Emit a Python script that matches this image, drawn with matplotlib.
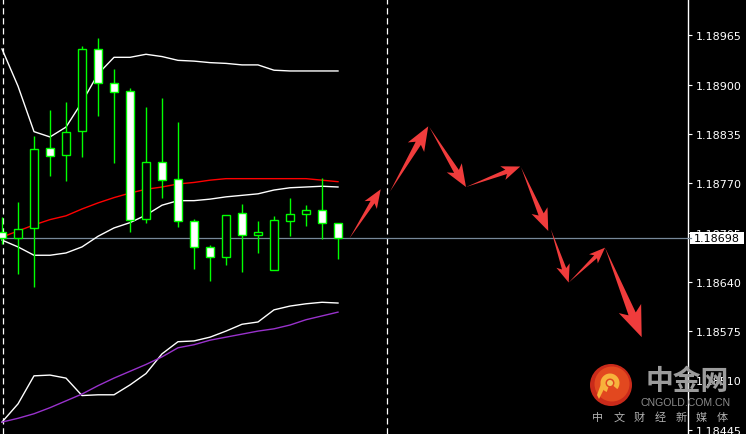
import numpy as np
import matplotlib
matplotlib.use("Agg")
import matplotlib.pyplot as plt
from matplotlib.patches import Rectangle, Polygon, Circle, Wedge

# ---------------- data ----------------
opens  = [1.18706, 1.18698, 1.18711, 1.18816, 1.18807, 1.18839, 1.18947, 1.18902, 1.18892, 1.18723, 1.18798,
          1.18776, 1.18720, 1.18686, 1.18673, 1.18731, 1.18702, 1.18656, 1.18720, 1.18729, 1.18735, 1.18718]
highs  = [1.18726, 1.18745, 1.18832, 1.18867, 1.18877, 1.18951, 1.18961, 1.18921, 1.18896, 1.18871, 1.18882,
          1.18851, 1.18723, 1.18689, 1.18728, 1.18743, 1.18720, 1.18727, 1.18751, 1.18741, 1.18777, 1.18718]
lows   = [1.18690, 1.18650, 1.18633, 1.18780, 1.18773, 1.18805, 1.18859, 1.18797, 1.18706, 1.18718, 1.18751,
          1.18712, 1.18657, 1.18641, 1.18662, 1.18653, 1.18678, 1.18656, 1.18700, 1.18714, 1.18697, 1.18670]
closes = [1.18698, 1.18710, 1.18815, 1.18806, 1.18838, 1.18947, 1.18902, 1.18890, 1.18722, 1.18798, 1.18774,
          1.18720, 1.18686, 1.18673, 1.18728, 1.18702, 1.18706, 1.18722, 1.18729, 1.18735, 1.18718, 1.18698]

bb_upper  = [1.18947, 1.18898, 1.18838, 1.18831, 1.18844, 1.18877, 1.18914, 1.18936, 1.18936, 1.18940, 1.18937,
             1.18932, 1.18931, 1.18929, 1.18928, 1.18926, 1.18926, 1.18919, 1.18918, 1.18918, 1.18918, 1.18918]
bb_middle = [1.18699, 1.18707, 1.18715, 1.18722, 1.18727, 1.18736, 1.18744, 1.18751, 1.18757, 1.18762, 1.18765,
             1.18769, 1.18771, 1.18774, 1.18776, 1.18776, 1.18776, 1.18776, 1.18776, 1.18776, 1.18774, 1.18772]
bb_lower  = [1.18695, 1.18686, 1.18675, 1.18675, 1.18678, 1.18686, 1.18700, 1.18711, 1.18718, 1.18728, 1.18741,
             1.18747, 1.18747, 1.18749, 1.18752, 1.18754, 1.18756, 1.18761, 1.18764, 1.18765, 1.18766, 1.18765]

ind_white  = [1.18455, 1.18479, 1.18516, 1.18517, 1.18513, 1.18490, 1.18491, 1.18491, 1.18504, 1.18519, 1.18545,
              1.18561, 1.18562, 1.18567, 1.18575, 1.18584, 1.18587, 1.18603, 1.18608, 1.18611, 1.18613, 1.18612]
ind_purple = [1.18455, 1.18460, 1.18466, 1.18474, 1.18483, 1.18492, 1.18503, 1.18513, 1.18522, 1.18531, 1.18541,
              1.18553, 1.18557, 1.18563, 1.18567, 1.18571, 1.18575, 1.18578, 1.18583, 1.18590, 1.18595, 1.18600]

bid_price = 1.18698
y_ticks = [1.18965, 1.18900, 1.18835, 1.18770, 1.18705, 1.18640, 1.18575, 1.18510, 1.18445]
separators = [0.06, 24.06]

# forecast arrows: (bar_from, price_from, bar_to, price_to)
arrow_bar_from   = [21.71, 24.25, 26.71, 29.00, 32.44, 34.31, 35.42, 37.69]
arrow_price_from = [1.18697, 1.18759, 1.18844, 1.18765, 1.18791, 1.18709, 1.18639, 1.18685]
arrow_bar_to     = [23.67, 26.64, 29.00, 32.39, 34.14, 35.42, 37.69, 39.98]
arrow_price_to   = [1.18762, 1.18845, 1.18765, 1.18792, 1.18707, 1.18639, 1.18685, 1.18567]

# ---------------- figure ----------------
W, H = 746, 435
fig = plt.figure(figsize=(W / 100, H / 100), dpi=100, facecolor="black")
ax = fig.add_axes([0, 0, 688 / W, 1])
ax.set_facecolor("black")
ax.set_xlim(-0.125, 42.875)
ax.set_ylim(1.184393, 1.190129)

x = np.arange(len(opens))
GREEN = "#00FF00"

# separators
for s in separators:
    ax.axvline(s, color="white", lw=0.9, ls=(0, (5, 3)), zorder=1)

# bid line
ax.axhline(bid_price, color="#778899", lw=0.9, zorder=1.5)

# indicators
ax.plot(x, bb_upper, color="white", lw=1.0, zorder=2)
ax.plot(x, bb_middle, color="#FF0000", lw=1.0, zorder=2)
ax.plot(x, bb_lower, color="white", lw=1.0, zorder=2)
ax.plot(x, ind_white, color="white", lw=1.0, zorder=2)
ax.plot(x, ind_purple, color="#9932CC", lw=1.0, zorder=2)

# candles
ax.vlines(x, lows, highs, color=GREEN, lw=1.0, zorder=3)
bw = 0.56
for i in range(len(opens)):
    o, c = opens[i], closes[i]
    fc = "white" if c < o else "black"
    ax.add_patch(Rectangle((x[i] - bw / 2, min(o, c)), bw, abs(c - o),
                           fc=fc, ec=GREEN, lw=1.0, zorder=4))

# axis styling
ax.set_xticks([])
ax.yaxis.tick_right()
ax.set_yticks(y_ticks)
ax.set_yticklabels([f"{v:.5f}" for v in y_ticks])
ax.tick_params(axis="y", colors="white", length=3, width=0.8, pad=2.5, labelsize=8)
for k in ["left", "top", "bottom"]:
    ax.spines[k].set_visible(False)
ax.spines["right"].set_color("white")
ax.spines["right"].set_linewidth(1.0)

# ---------------- overlay (pixel space) ----------------
ov = fig.add_axes([0, 0, 1, 1], facecolor="none")
ov.set_xlim(0, W)
ov.set_ylim(0, H)
ov.axis("off")

fig.canvas.draw()


def to_px(bx, py):
    return np.array(ax.transData.transform((bx, py)))


for b0, p0v, b1, p1v in zip(arrow_bar_from, arrow_price_from, arrow_bar_to, arrow_price_to):
    p0 = to_px(b0, p0v)
    p1 = to_px(b1, p1v)
    d = p1 - p0
    L = np.hypot(*d)
    u = d / L
    n = np.array([-u[1], u[0]])
    hl, hw, sw, notch = 0.26 * L, 0.25 * L, 0.08 * L, 0.06 * L
    pts = [p0,
           p0 + u * (L - hl) + n * sw / 2,
           p0 + u * (L - hl - notch) + n * hw / 2,
           p1,
           p0 + u * (L - hl - notch) - n * hw / 2,
           p0 + u * (L - hl) - n * sw / 2]
    ov.add_patch(Polygon(pts, closed=True, fc="#F03C3C", ec="none", zorder=5))

# current price box
yb = to_px(0, bid_price)[1]
ov.add_patch(Rectangle((690, yb - 5.7), 54, 11.4, fc="white", ec="none", zorder=6))
ov.plot([688, 691], [yb, yb], color="#778899", lw=0.9, zorder=6)
ov.text(694, yb, f"{bid_price:.5f}", color="black", fontsize=8, va="center", ha="left", zorder=7)

# watermark logo
cx, cy = 611, H - 386
ov.add_patch(Circle((cx, cy), 21, fc="#C92A1A", ec="none", zorder=8))
ov.add_patch(Circle((cx + 1, cy + 1), 17.5, fc="#E2481F", ec="none", zorder=8))
ov.add_patch(Wedge((cx - 1, cy + 2), 9.5, -40, 250, width=5, fc="#F7B23B", ec="none", zorder=9))
ov.add_patch(Polygon([(cx - 10, cy + 1), (cx - 5, cy), (cx - 12, cy - 14), (cx - 14, cy - 10)],
                     closed=True, fc="#F7B23B", ec="none", zorder=9))
ov.add_patch(Circle((cx - 1, cy + 2), 3, fc="#F3C65A", ec="none", zorder=9))

ov.text(687, H - 382, "中金网", fontsize=20, fontweight="bold", color="#9c9c9c",
        family=["Noto Sans CJK SC", "DejaVu Sans"], ha="center", va="center", zorder=9)
ov.text(685.5, H - 403, "CNGOLD.COM.CN", fontsize=7.6, color="#8c8c8c",
        family="Liberation Sans", ha="center", va="center", zorder=9)
for k, ch in enumerate("中文财经新媒体"):
    ov.text(598 + 20.7 * k, H - 418, ch, fontsize=8, color="#b0b0b0",
            family=["Noto Sans CJK SC", "DejaVu Sans"], ha="center", va="center", zorder=9)

fig.savefig("out.png", dpi=100, facecolor="black")
